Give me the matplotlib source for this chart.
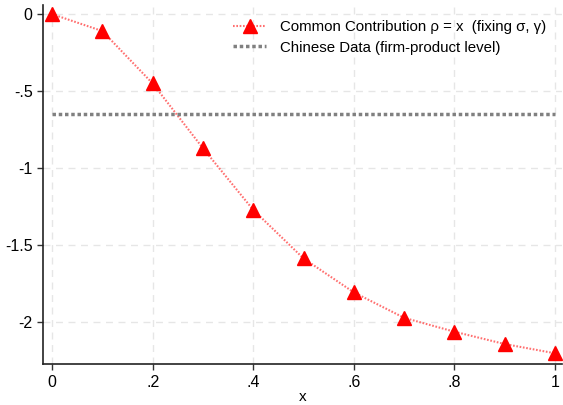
import numpy as np
import matplotlib.pyplot as plt

plt.rcParams['font.family'] = ['Liberation Sans', 'DejaVu Sans']

x = [0, 0.1, 0.2, 0.3, 0.4, 0.5, 0.6, 0.7, 0.8, 0.9, 1.0]
common = [0, -0.11, -0.45, -0.87, -1.27, -1.585, -1.805, -1.97, -2.06, -2.14, -2.20]
chinese = -0.65

xticks = [0, 0.2, 0.4, 0.6, 0.8, 1.0]
xticklabels = ['0', '.2', '.4', '.6', '.8', '1']
yticks = [0, -0.5, -1, -1.5, -2]
yticklabels = ['0', '-.5', '-1', '-1.5', '-2']

fig = plt.figure(figsize=(5.63, 4.05), dpi=100)
ax = fig.add_axes([0.0764, 0.101, 0.922, 0.887])

ax.plot(x, common, color='#ff7070', linestyle=(0, (0.8, 0.8)), linewidth=1.5,
        marker='^', markersize=10, markerfacecolor='red', markeredgecolor='red',
        label='Common Contribution \u03c1 = x  (fixing \u03c3, \u03b3)')
ax.plot([x[0], x[-1]], [chinese, chinese], color='#808080', linestyle=(0, (1, 0.8)),
        linewidth=2.5, label='Chinese Data (firm-product level)')

ax.set_xlim(-0.018, 1.014)
ax.set_ylim(-2.27, 0.06)
ax.set_xticks(xticks)
ax.set_xticklabels(xticklabels)
ax.set_yticks(yticks)
ax.set_yticklabels(yticklabels)
ax.tick_params(labelsize=11.5, length=4, width=1, color='#333333')
ax.grid(True, color='#e6e6e6', linestyle=(0, (5, 4)), linewidth=1)
ax.set_axisbelow(True)
for s in ['top', 'right']:
    ax.spines[s].set_visible(False)
for s in ['left', 'bottom']:
    ax.spines[s].set_linewidth(1.2)
    ax.spines[s].set_color('#222222')
ax.set_xlabel('x', fontsize=11, labelpad=0)

ax.legend(loc='upper left', bbox_to_anchor=(0.355, 0.975), frameon=False,
          fontsize=10.8, handlelength=2.2, handletextpad=0.9, labelspacing=0.45,
          borderaxespad=0)

fig.savefig('out.png', dpi=100)
